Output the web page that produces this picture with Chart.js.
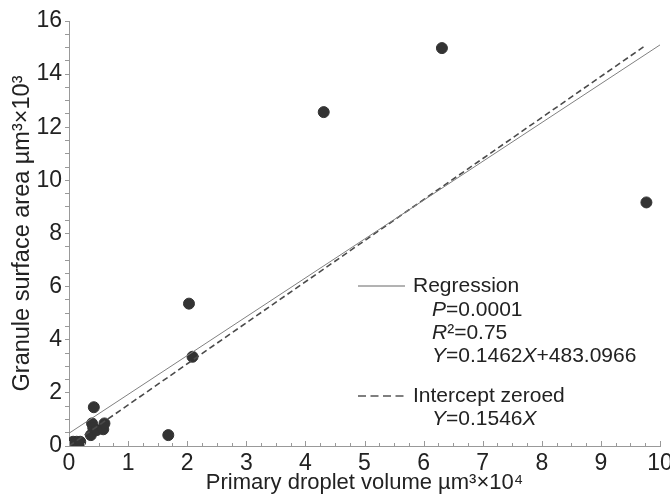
<!DOCTYPE html>
<html>
<head>
<meta charset="utf-8">
<script src="https://cdn.jsdelivr.net/npm/chart.js@4.4.1/dist/chart.umd.min.js"></script>
<style>
  html, body { margin: 0; padding: 0; background: #fff; }
  #wrap { width: 670px; height: 497px; }
</style>
</head>
<body>
<div id="wrap"><canvas id="granuleChart"></canvas></div>
<script>
// measured points (x: droplet volume µm³×10⁴, y: surface area µm³×10³)
const dropletVolume = [0.02, 0.05, 0.07, 0.13, 0.19, 0.37, 0.39, 0.41, 0.42, 0.47, 0.58, 0.60, 1.68, 2.03, 2.09, 4.31, 6.31, 9.77];
const surfaceArea   = [0.04, 0.10, 0.16, 0.16, 0.16, 0.41, 0.85, 0.69, 1.46, 0.60, 0.63, 0.85, 0.41, 5.36, 3.36, 12.57, 14.98, 9.17];

// fitted lines, end points
const regressionX = [0, 10];
const regressionY = [0.48, 15.10];
const zeroedX = [0, 9.75];
const zeroedY = [0, 15.07];

const xTickLabels = [0, 1, 2, 3, 4, 5, 6, 7, 8, 9, 10];
const yTickLabels = [0, 2, 4, 6, 8, 10, 12, 14, 16];

const toPoints = (xs, ys) => xs.map((x, i) => ({ x: x, y: ys[i] }));

const FONT = "'Liberation Sans', Arial, sans-serif";
const ink = "#222";

// x ticks point up into the plot in the original
const innerTicks = {
    id: "innerTicks",
    afterDatasetsDraw(chart) {
        const ctx = chart.ctx;
        const xs = chart.scales.x;
        const y0 = chart.chartArea.bottom;
        ctx.save();
        ctx.strokeStyle = "#999";
        ctx.lineWidth = 1;
        xs.ticks.forEach(t => {
            const px = Math.round(xs.getPixelForValue(t.value)) + 0.5;
            const len = Number.isInteger(t.value) ? 5 : 3;
            ctx.beginPath();
            ctx.moveTo(px, y0);
            ctx.lineTo(px, y0 - len);
            ctx.stroke();
        });
        ctx.restore();
    }
};

// legend drawn on canvas, mixed italic runs
const legendPlugin = {
    id: "fitLegend",
    afterDraw(chart) {
        const ctx = chart.ctx;
        ctx.save();
        ctx.textBaseline = "middle";
        ctx.fillStyle = ink;
        const run = (parts, x, y) => {
            parts.forEach(p => {
                ctx.font = (p[1] ? "italic " : "") + "21px " + FONT;
                ctx.fillText(p[0], x, y);
                x += ctx.measureText(p[0]).width;
            });
        };
        // solid sample
        ctx.strokeStyle = "#666";
        ctx.lineWidth = 1;
        ctx.beginPath();
        ctx.moveTo(358, 286); ctx.lineTo(405, 286);
        ctx.stroke();
        run([["Regression", false]], 413, 286);
        run([["P", true], ["=0.0001", false]], 432, 310);
        run([["R", true], ["²=0.75", false]], 432, 333);
        run([["Y", true], ["=0.1462", false], ["X", true], ["+483.0966", false]], 432, 356);
        // dashed sample
        ctx.strokeStyle = "#555";
        ctx.lineWidth = 1.5;
        ctx.setLineDash([8, 4.5]);
        ctx.beginPath();
        ctx.moveTo(358, 396); ctx.lineTo(405, 396);
        ctx.stroke();
        ctx.setLineDash([]);
        run([["Intercept zeroed", false]], 413, 396);
        run([["Y", true], ["=0.1546", false], ["X", true]], 432, 419);
        ctx.restore();
    }
};

new Chart(document.getElementById("granuleChart"), {
    type: "scatter",
    data: {
        datasets: [
            {
                label: "Regression",
                type: "line",
                data: toPoints(regressionX, regressionY),
                borderColor: "#808080",
                borderWidth: 1,
                pointRadius: 0,
                fill: false,
            },
            {
                label: "Intercept zeroed",
                type: "line",
                data: toPoints(zeroedX, zeroedY),
                borderColor: "#4a4a4a",
                borderWidth: 1.6,
                borderDash: [6, 3.5],
                pointRadius: 0,
                fill: false,
            },
            {
                label: "Data",
                data: toPoints(dropletVolume, surfaceArea),
                backgroundColor: "#333",
                borderColor: "#333",
                pointRadius: 5.5,
            },
        ],
    },
    options: {
        responsive: true,
        maintainAspectRatio: false,
        animation: false,
        layout: { padding: { top: 21, right: 10, left: 0, bottom: 0 } },
        plugins: {
            legend: { display: false },
            tooltip: { enabled: false },
        },
        scales: {
            x: {
                type: "linear",
                min: 0,
                max: 10,
                afterFit: s => { s.height = 51; s.paddingLeft = 0; s.paddingRight = 0; },
                afterBuildTicks: s => {
                    s.ticks = [];
                    for (let i = 0; i <= 40; i++) s.ticks.push({ value: i / 4 });
                },
                ticks: {
                    autoSkip: false,
                    maxRotation: 0,
                    padding: 4,
                    color: ink,
                    font: { family: FONT, size: 23 },
                    callback: v => xTickLabels.includes(v) ? String(v) : "",
                },
                grid: { drawOnChartArea: false, tickLength: 0, tickColor: "rgba(0,0,0,0)" },
                border: { color: "#999" },
                title: {
                    display: true,
                    text: "Primary droplet volume µm³×10⁴",
                    color: ink,
                    font: { family: FONT, size: 22 },
                    padding: { top: 0, bottom: 1 },
                },
            },
            y: {
                type: "linear",
                min: 0,
                max: 16,
                afterFit: s => { s.width = 69; },
                afterBuildTicks: s => {
                    s.ticks = [];
                    for (let i = 0; i <= 32; i++) s.ticks.push({ value: i / 2 });
                },
                ticks: {
                    autoSkip: false,
                    padding: 3,
                    color: ink,
                    font: { family: FONT, size: 23 },
                    callback: v => yTickLabels.includes(v) ? String(v) : "",
                },
                grid: { drawOnChartArea: false, tickLength: 4, tickColor: "#999" },
                border: { color: "#999" },
                title: {
                    display: true,
                    text: "Granule surface area µm³×10³",
                    color: ink,
                    font: { family: FONT, size: 23.5 },
                    padding: { top: 8, bottom: 0 },
                },
            },
        },
    },
    plugins: [innerTicks, legendPlugin],
});
</script>
</body>
</html>
